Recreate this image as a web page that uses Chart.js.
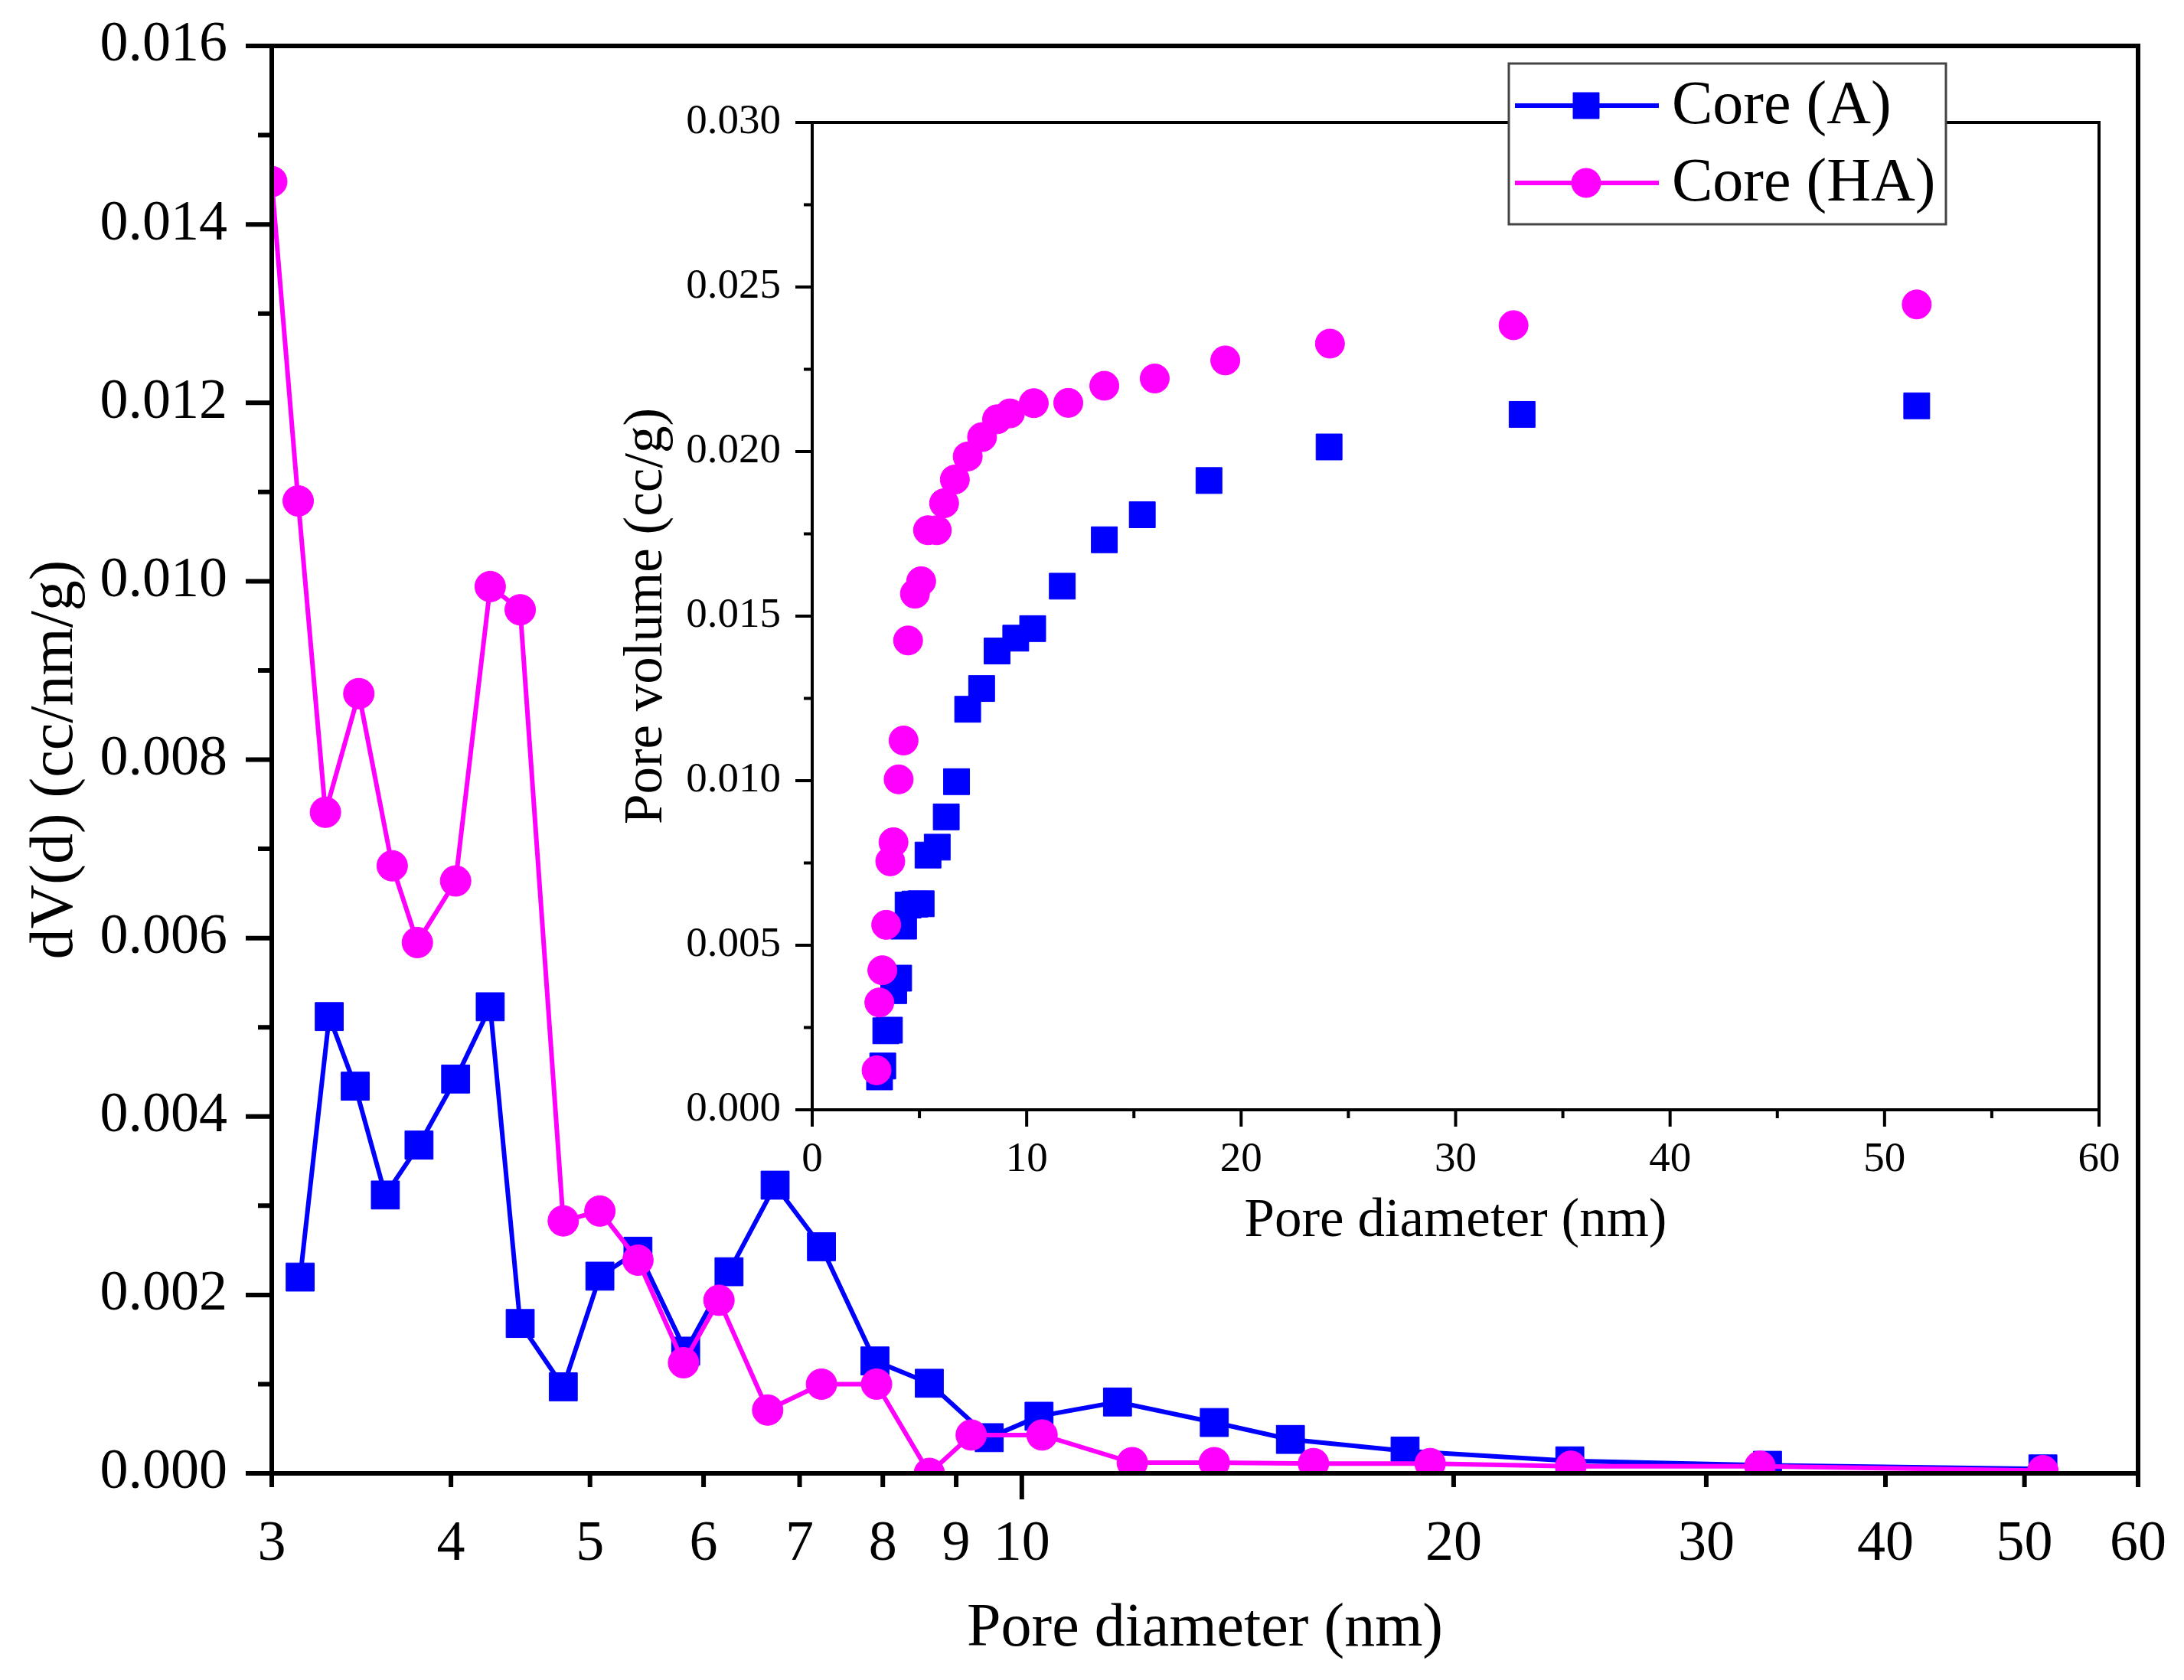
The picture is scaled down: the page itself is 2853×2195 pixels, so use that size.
<!DOCTYPE html>
<html>
<head>
<meta charset="utf-8">
<script src="https://cdn.jsdelivr.net/npm/chart.js@4.4.0/dist/chart.umd.min.js"></script>
<style>
  html, body { margin: 0; padding: 0; background: #fff; }
  #wrap { position: relative; width: 2853px; height: 2195px; }
  canvas { position: absolute; left: 0; top: 0; }
</style>
</head>
<body>
<div id="wrap">
  <canvas id="mainChart" width="2853" height="2195"></canvas>
  <canvas id="insetChart" width="2853" height="2195"></canvas>
</div>
<script>
// pore diameters (nm)
const diamA  = [3.14, 3.29, 3.43, 3.60, 3.80, 4.03, 4.26, 4.47, 4.79, 5.08, 5.40, 5.83, 6.25,
                6.73, 7.25, 7.90, 8.62, 9.49, 10.28, 11.66, 13.62, 15.39, 18.5, 24.1, 33.1, 51.5];
const diamHA = [3.0, 3.13, 3.27, 3.45, 3.64, 3.79, 4.03, 4.26, 4.47, 4.79, 5.08, 5.40, 5.81, 6.15,
                6.65, 7.25, 7.92, 8.62, 9.22, 10.33, 11.94, 13.62, 15.97, 19.26, 24.14, 32.7, 51.5];

// dV(d) (cc/nm/g) - main plot
const dvA  = [0.00220, 0.00512, 0.00434, 0.00312, 0.00368, 0.00442, 0.00523, 0.00168, 0.00097,
              0.00221, 0.00249, 0.00137, 0.00226, 0.00323, 0.00254, 0.00126, 0.00101, 0.00040,
              0.00064, 0.00080, 0.00057, 0.00038, 0.00025, 0.00014, 0.00009, 0.00005];
const dvHA = [0.01448, 0.01090, 0.00741, 0.00874, 0.00681, 0.00595, 0.00664, 0.00994, 0.00968,
              0.00283, 0.00294, 0.00239, 0.00124, 0.00194, 0.00071, 0.00100, 0.00100, 0.0,
              0.00043, 0.00043, 0.00012, 0.00012, 0.00011, 0.00011, 0.00008, 0.00008, 0.00003];

// cumulative pore volume (cc/g) - inset
const pvA  = [0.00100, 0.00133, 0.00240, 0.00242, 0.00362, 0.00400, 0.00558, 0.00622, 0.00625,
              0.00626, 0.00774, 0.00798, 0.00890, 0.00997, 0.01217, 0.01280, 0.01394, 0.01433,
              0.01462, 0.01591, 0.01732, 0.01808, 0.01912, 0.02014, 0.02113, 0.02139];
const pvHA = [0.00120, 0.00326, 0.00424, 0.00562, 0.00755, 0.00813, 0.01004, 0.01122, 0.01426,
              0.01568, 0.01606, 0.01761, 0.01761, 0.01843, 0.01915, 0.01985, 0.02044, 0.02098,
              0.02116, 0.02147, 0.02148, 0.02200, 0.02222, 0.02277, 0.02328, 0.02384, 0.02447];

// tick values
const mainXTicks  = [3, 4, 5, 6, 7, 8, 9, 10, 20, 30, 40, 50, 60];
const mainXMajor  = [10];
const mainXMinor  = [3, 4, 5, 6, 7, 8, 9, 20, 30, 40, 50, 60];
const mainYTicks  = [0, 0.002, 0.004, 0.006, 0.008, 0.010, 0.012, 0.014, 0.016];
const mainYMinor  = [0.001, 0.003, 0.005, 0.007, 0.009, 0.011, 0.013, 0.015];
const insetXTicks = [0, 10, 20, 30, 40, 50, 60];
const insetXMinor = [5, 15, 25, 35, 45, 55];
const insetYTicks = [0, 0.005, 0.010, 0.015, 0.020, 0.025, 0.030];
const insetYMinor = [0.0025, 0.0075, 0.0125, 0.0175, 0.0225, 0.0275];

const FONT = '"Liberation Serif", "Times New Roman", serif';
Chart.defaults.font.family = FONT;
Chart.defaults.color = '#000';

const toXY = (xs, ys) => xs.map((x, i) => ({ x: x, y: ys[i] }));
const noClip = { left: 0, top: 0, right: 0, bottom: 0 };

// keep the layout padding as given (no extra room for label overflow)
const fixX = h => s => { s.height = h; s.paddingLeft = 0; s.paddingRight = 0; };
const fixY = w => s => { s.width = w; s.paddingTop = 0; s.paddingBottom = 0; };

// frame + outward major/minor tick marks
const axisDecor = {
  id: 'axisDecor',
  afterDraw(chart, args, o) {
    const ctx = chart.ctx, a = chart.chartArea;
    const sx = chart.scales.x, sy = chart.scales.y;
    ctx.save();
    ctx.strokeStyle = '#000';
    ctx.lineWidth = o.tickWidth;
    ctx.beginPath();
    const xMark = (v, len) => { const p = sx.getPixelForValue(v); ctx.moveTo(p, a.bottom); ctx.lineTo(p, a.bottom + len); };
    const yMark = (v, len) => { const p = sy.getPixelForValue(v); ctx.moveTo(a.left, p); ctx.lineTo(a.left - len, p); };
    o.xMajor.forEach(v => xMark(v, o.majorLen));
    o.xMinor.forEach(v => xMark(v, o.minorLen));
    o.yMajor.forEach(v => yMark(v, o.majorLen));
    o.yMinor.forEach(v => yMark(v, o.minorLen));
    ctx.stroke();
    ctx.lineWidth = o.frame;
    ctx.strokeRect(a.left, a.top, a.right - a.left, a.bottom - a.top);
    ctx.restore();
  }
};

// boxed legend at a fixed spot
const boxLegend = {
  id: 'boxLegend',
  afterDraw(chart, args, o) {
    const ctx = chart.ctx;
    ctx.save();
    ctx.fillStyle = '#fff';
    ctx.fillRect(o.left, o.top, o.width, o.height);
    ctx.strokeStyle = '#444';
    ctx.lineWidth = 3;
    ctx.strokeRect(o.left, o.top, o.width, o.height);
    chart.data.datasets.forEach((ds, i) => {
      const y = o.top + o.firstRow + i * o.rowGap;
      ctx.strokeStyle = ds.borderColor;
      ctx.lineWidth = 6;
      ctx.beginPath();
      ctx.moveTo(o.left + 8, y);
      ctx.lineTo(o.left + 196, y);
      ctx.stroke();
      ctx.fillStyle = ds.backgroundColor;
      ctx.lineWidth = 1;
      Chart.helpers.drawPoint(ctx, { pointStyle: ds.pointStyle, radius: ds.pointRadius, borderWidth: 1, rotation: 0 }, o.left + 101, y);
      ctx.fillStyle = '#000';
      ctx.font = '80px ' + FONT;
      ctx.textBaseline = 'middle';
      ctx.textAlign = 'left';
      ctx.fillText(ds.label, o.left + 213, y + 2);
    });
    ctx.restore();
  }
};

// main chart: pore size distribution
new Chart(document.getElementById('mainChart'), {
  type: 'line',
  data: {
    datasets: [{
      label: 'Core (A)',
      data: toXY(diamA, dvA),
      borderColor: '#0000ff',
      backgroundColor: '#0000ff',
      borderWidth: 6,
      pointStyle: 'rect',
      pointRadius: 26,
      pointBorderWidth: 1,
      order: 1,
      clip: noClip
    }, {
      label: 'Core (HA)',
      data: toXY(diamHA, dvHA),
      borderColor: '#ff00ff',
      backgroundColor: '#ff00ff',
      borderWidth: 6,
      pointStyle: 'circle',
      pointRadius: 20,
      pointBorderWidth: 1,
      order: 0,
      clip: noClip
    }]
  },
  options: {
    responsive: false,
    animation: false,
    devicePixelRatio: 1,
    layout: { padding: { left: 0, top: 60, right: 60, bottom: 0 } },
    plugins: {
      legend: { display: false },
      tooltip: { enabled: false },
      axisDecor: { frame: 6, tickWidth: 6, majorLen: 34, minorLen: 18,
                   xMajor: mainXMajor, xMinor: mainXMinor, yMajor: mainYTicks, yMinor: mainYMinor }
    },
    scales: {
      x: {
        type: 'logarithmic',
        min: 3,
        max: 60,
        afterBuildTicks: s => { s.ticks = mainXTicks.map(v => ({ value: v })); },
        afterFit: fixX(270),
        grid: { display: false, drawTicks: false },
        border: { display: false },
        ticks: { autoSkip: false, maxRotation: 0, padding: 49, font: { size: 74 }, callback: v => String(v) },
        title: { display: true, text: 'Pore diameter (nm)', font: { size: 80 }, padding: { top: 0, bottom: 18 } }
      },
      y: {
        min: 0,
        max: 0.016,
        afterBuildTicks: s => { s.ticks = mainYTicks.map(v => ({ value: v })); },
        afterFit: fixY(355),
        grid: { display: false, drawTicks: false },
        border: { display: false },
        ticks: { padding: 58, font: { size: 74 }, callback: v => v.toFixed(3) },
        title: { display: true, text: 'dV(d) (cc/nm/g)', font: { size: 80 }, padding: { top: 25, bottom: 0 } }
      }
    }
  },
  plugins: [axisDecor]
});

// inset: cumulative pore volume
new Chart(document.getElementById('insetChart'), {
  type: 'scatter',
  data: {
    datasets: [{
      label: 'Core (A)',
      data: toXY(diamA, pvA),
      borderColor: '#0000ff',
      backgroundColor: '#0000ff',
      pointStyle: 'rect',
      pointRadius: 24,
      pointBorderWidth: 1,
      showLine: false,
      order: 1,
      clip: noClip
    }, {
      label: 'Core (HA)',
      data: toXY(diamHA, pvHA),
      borderColor: '#ff00ff',
      backgroundColor: '#ff00ff',
      pointStyle: 'circle',
      pointRadius: 19,
      pointBorderWidth: 1,
      showLine: false,
      order: 0,
      clip: noClip
    }]
  },
  options: {
    responsive: false,
    animation: false,
    devicePixelRatio: 1,
    layout: { padding: { left: 780, top: 160, right: 111, bottom: 545 } },
    plugins: {
      legend: { display: false },
      tooltip: { enabled: false },
      axisDecor: { frame: 4, tickWidth: 4, majorLen: 22, minorLen: 11,
                   xMajor: insetXTicks, xMinor: insetXMinor, yMajor: insetYTicks, yMinor: insetYMinor },
      boxLegend: { left: 1971, top: 83, width: 571, height: 210, firstRow: 55, rowGap: 101 }
    },
    scales: {
      x: {
        type: 'linear',
        min: 0,
        max: 60,
        afterBuildTicks: s => { s.ticks = insetXTicks.map(v => ({ value: v })); },
        afterFit: fixX(200),
        grid: { display: false, drawTicks: false },
        border: { display: false },
        ticks: { autoSkip: false, maxRotation: 0, padding: 33, font: { size: 55 }, callback: v => String(v) },
        title: { display: true, text: 'Pore diameter (nm)', font: { size: 71 }, padding: { top: 0, bottom: 11 } }
      },
      y: {
        min: 0,
        max: 0.030,
        afterBuildTicks: s => { s.ticks = insetYTicks.map(v => ({ value: v })); },
        afterFit: fixY(281),
        grid: { display: false, drawTicks: false },
        border: { display: false },
        ticks: { padding: 41, font: { size: 55 }, callback: v => v.toFixed(3) },
        title: { display: true, text: 'Pore volume (cc/g)', font: { size: 71 }, padding: { top: 23, bottom: 0 } }
      }
    }
  },
  plugins: [axisDecor, boxLegend]
});
</script>
</body>
</html>
